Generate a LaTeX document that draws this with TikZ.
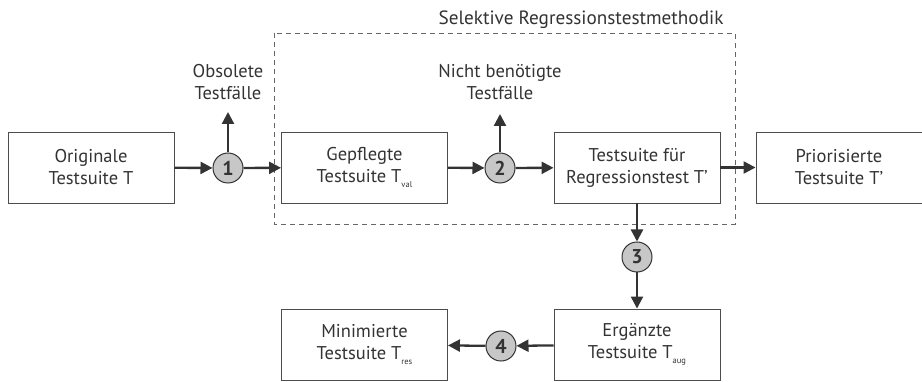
\documentclass[tikz,border=0pt]{standalone}
\usepackage{fontspec}
\setmainfont{PT Sans}
\usetikzlibrary{arrows.meta}
\newcommand\lowsub[1]{\raisebox{-0.5ex}{\fontsize{8.5}{9}\selectfont #1}}
\begin{document}
\begin{tikzpicture}[x=1pt,y=-1pt,
  every node/.style={font=\fontsize{18.5}{22}\selectfont, text=black!80},
  suite/.style={draw=black!70, line width=0.9pt, minimum width=166pt, minimum height=71pt, align=center, inner sep=0pt},
  stage/.style={circle, draw=black!80, fill=black!22, line width=1pt, minimum size=30pt, inner sep=0pt, font=\fontsize{20}{20}\selectfont\bfseries},
  flow/.style={draw=black!80, line width=2.3pt, -{Triangle[length=12pt,width=12pt]}},
  caption/.style={align=center}
]
\useasboundingbox (0,0) rectangle (922,382);

% dashed frame of the selective method
\draw[black!60, line width=0.8pt, dash pattern=on 5pt off 4pt] (274,33) rectangle (735,224);
\node[anchor=base, font=\fontsize{19.2}{22}\selectfont] (title) at (581,25) {Selektive Regressionstestmethodik};

% test suites
\node[suite] (orig) at (91,167.5) {Originale\\Testsuite T};
\node[suite] (val)  at (364.5,167.5) {Gepflegte\\Testsuite T\lowsub{val}};
\node[suite] (reg)  at (637,167.5) {Testsuite für\\Regressionstest T’};
\node[suite] (prio) at (839,167.5) {Priorisierte\\Testsuite T’};
\node[suite] (aug)  at (637,344.5) {Ergänzte\\Testsuite T\lowsub{aug}};
\node[suite] (res)  at (364.5,344.5) {Minimierte\\Testsuite T\lowsub{res}};

% processing steps
\node[stage] (s1) at (228,168) {1};
\node[stage] (s2) at (500,168) {2};
\node[stage] (s3) at (637,257) {3};
\node[stage] (s4) at (501,346) {4};

% removed test cases
\coordinate (out1) at (228,112);
\coordinate (out2) at (500,114);
\node[caption] (obs) at (228,82) {Obsolete\\Testfälle};
\node[caption] (nb)  at (500,82) {Nicht benötigte\\Testfälle};

% connectors
\draw[flow] (orig) -- (s1);
\draw[flow] (s1) -- (val);
\draw[flow] (s1) -- (out1);
\draw[flow] (val) -- (s2);
\draw[flow] (s2) -- (reg);
\draw[flow] (s2) -- (out2);
\draw[flow] (reg) -- (prio);
\draw[flow] (reg) -- (s3);
\draw[flow] (s3) -- (aug);
\draw[flow] (aug) -- (s4);
\draw[flow] (s4) -- (res);
\end{tikzpicture}
\end{document}
